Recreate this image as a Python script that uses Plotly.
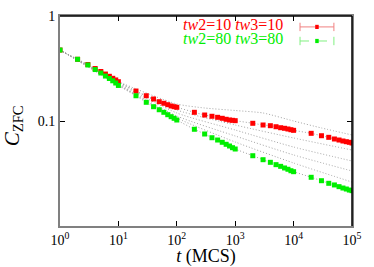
import plotly.graph_objects as go

# time points (MCS)
t_data = [1, 2, 3, 4, 5, 6, 7, 8, 9, 10,
          20, 30, 40, 50, 60, 70, 80, 90, 100,
          200, 300, 400, 500, 600, 700, 800, 900, 1000,
          2000, 3000, 4000, 5000, 6000, 7000, 8000, 9000, 10000,
          20000, 30000, 40000, 50000, 60000, 70000, 80000, 90000, 100000]

c_red = [0.474, 0.387, 0.345, 0.316, 0.296, 0.280, 0.2665, 0.255, 0.246, 0.2367,
         0.193, 0.174, 0.162, 0.1527, 0.1475, 0.143, 0.139, 0.1368, 0.135,
         0.121, 0.114, 0.1109, 0.1084, 0.1061, 0.1038, 0.1022, 0.1015, 0.1007,
         0.0951, 0.0916, 0.0902, 0.0882, 0.0863, 0.0852, 0.0839, 0.0826, 0.0815,
         0.0763, 0.0724, 0.0699, 0.0674, 0.0659, 0.0645, 0.0635, 0.0627, 0.0617]

c_green = [0.474, 0.387, 0.3415, 0.309, 0.2866, 0.268, 0.254, 0.2415, 0.230, 0.218,
           0.174, 0.1507, 0.1368, 0.128, 0.121, 0.1148, 0.1099, 0.1061, 0.1022,
           0.0834, 0.0752, 0.0693, 0.0659, 0.0627, 0.060, 0.0578, 0.0557, 0.0541,
           0.0467, 0.0428, 0.0404, 0.0384, 0.0370, 0.0357, 0.0347, 0.0336, 0.0329,
           0.0291, 0.0270, 0.0255, 0.0246, 0.0237, 0.0230, 0.0225, 0.0220, 0.0217]

# other (unlabelled) curves, drawn as grey dotted lines
t_grey_a = [1, 10, 100, 300, 1000, 3000, 10000, 30000, 100000]
c_grey_a = [0.474, 0.2377, 0.1452, 0.133, 0.1259, 0.1192, 0.100, 0.0858, 0.0736]

t_grey = [1, 10, 100, 1000, 10000, 100000]
c_grey_b = [0.474, 0.2326, 0.1273, 0.0916, 0.0689, 0.0529]
c_grey_c = [0.474, 0.2276, 0.1192, 0.0821, 0.0565, 0.0416]
c_grey_d = [0.474, 0.2227, 0.1116, 0.0720, 0.0475, 0.0334]
c_grey_e = [0.474, 0.2202, 0.1068, 0.0631, 0.0398, 0.0262]

x_ticks = [1, 10, 100, 1000, 10000, 100000]
x_ticktext = ["10<sup>0</sup>", "10<sup>1</sup>", "10<sup>2</sup>",
              "10<sup>3</sup>", "10<sup>4</sup>", "10<sup>5</sup>"]
y_ticks = [0.1, 1]
y_ticktext = ["0.1", "1"]

SERIF = "Times New Roman, Liberation Serif, Times, serif"
GREY = "#999999"
RED = "#ff0000"
GREEN = "#00ee00"

fig = go.Figure()

grey_line = dict(color=GREY, width=0.9, dash="1px,2px", shape="spline", smoothing=0.6)
for tt, cc in [(t_grey_a, c_grey_a), (t_grey, c_grey_b), (t_grey, c_grey_c),
               (t_grey, c_grey_d), (t_grey, c_grey_e),
               (t_data, c_red), (t_data, c_green)]:
    fig.add_trace(go.Scatter(x=tt, y=cc, mode="lines", line=grey_line,
                             showlegend=False, hoverinfo="skip"))

fig.add_trace(go.Scatter(x=t_data, y=c_red, mode="markers",
                         marker=dict(symbol="square", size=5, color=RED),
                         showlegend=False))
fig.add_trace(go.Scatter(x=t_data, y=c_green, mode="markers",
                         marker=dict(symbol="square", size=5, color=GREEN),
                         showlegend=False))

# manual legend (text left of sample, like gnuplot)
leg_rows = [(0.948, "<i>tw</i>2=10 <i>tw</i>3=10", RED, "#f08080", "solid"),
            (0.881, "<i>tw</i>2=80 <i>tw</i>3=80", GREEN, "#80f080", "dash")]
for yy, txt, col, lcol, dash in leg_rows:
    fig.add_annotation(xref="paper", yref="paper", x=0.772, y=yy + 0.01, xanchor="right", yanchor="middle",
                       text=txt, showarrow=False,
                       font=dict(family=SERIF, size=16, color=col))
    fig.add_shape(type="line", xref="paper", yref="paper", x0=0.822, x1=0.938, y0=yy, y1=yy,
                  line=dict(color=lcol, width=1, dash=dash))
    for xe in (0.822, 0.938):
        fig.add_shape(type="line", xref="paper", yref="paper", x0=xe, x1=xe,
                      y0=yy - 0.02, y1=yy + 0.02, line=dict(color=lcol, width=1))
    fig.add_shape(type="rect", xref="paper", yref="paper", x0=0.874, x1=0.886,
                  y0=yy - 0.01, y1=yy + 0.01, fillcolor=col, line=dict(width=0))

# y-axis title as rotated annotation
fig.add_annotation(xref="paper", yref="paper", x=-0.162, y=0.478, xanchor="center", yanchor="middle",
                   text="<i>C</i><sub>ZFC</sub>", textangle=-90, showarrow=False,
                   font=dict(family=SERIF, size=21, color="black"))

# top & right frame lines
fig.add_shape(type="line", xref="paper", yref="paper", x0=0, x1=1, y0=1, y1=1,
              line=dict(color="black", width=1.5))
fig.add_shape(type="line", xref="paper", yref="paper", x0=1, x1=1, y0=0, y1=1,
              line=dict(color="black", width=1.5))

fig.update_xaxes(type="log", range=[0, 5], tickvals=x_ticks, ticktext=x_ticktext,
                 ticks="inside", ticklen=5, tickcolor="black", mirror="ticks",
                 showline=True, linecolor="#808080", linewidth=2, showgrid=False, zeroline=False,
                 automargin=False,
                 tickfont=dict(family=SERIF, size=14, color="black"),
                 title=dict(text="<i>t</i> (MCS)", font=dict(family=SERIF, size=18, color="black"),
                            standoff=1))
fig.update_yaxes(type="log", range=[-2, 0], tickvals=y_ticks, ticktext=y_ticktext,
                 ticks="inside", ticklen=5, tickcolor="black", mirror="ticks",
                 showline=True, linecolor="#808080", linewidth=2, showgrid=False, zeroline=False,
                 automargin=False,
                 tickfont=dict(family=SERIF, size=14, color="black"))

fig.update_layout(width=374, height=267, margin=dict(l=60, r=22, t=16, b=41, autoexpand=False),
                  paper_bgcolor="white", plot_bgcolor="white", showlegend=False)

fig.write_html("out.html", config={"displayModeBar": False},
               post_script="document.body.style.margin='0';document.body.style.overflow='hidden';")
